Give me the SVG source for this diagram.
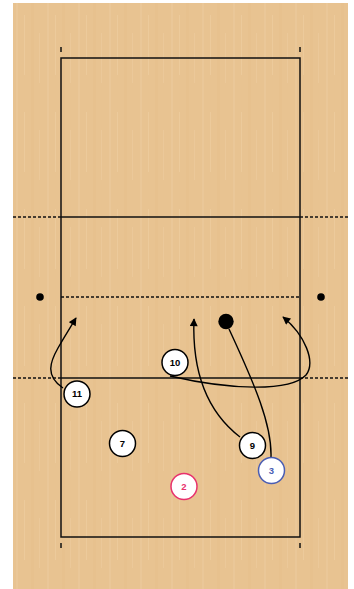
<svg xmlns="http://www.w3.org/2000/svg" width="354" height="589" viewBox="0 0 354 589">
<defs>
<pattern id="grain" x="13" y="3" width="31" height="97" patternUnits="userSpaceOnUse">
<rect width="31" height="97" fill="#e8c391"/>
<rect x="3" y="0" width="2" height="97" fill="#ecc99b" opacity="0.7"/>
<rect x="11" y="12" width="1" height="60" fill="#eecea2" opacity="0.6"/>
<rect x="18" y="0" width="3" height="97" fill="#e5bf8b" opacity="0.5"/>
<rect x="26" y="30" width="1" height="50" fill="#eecea2" opacity="0.5"/>
</pattern>
<marker id="arr" viewBox="0 0 10 10" refX="9" refY="5" markerWidth="9" markerHeight="8" markerUnits="userSpaceOnUse" orient="auto">
<path d="M0,0 L10,5 L0,10 Z" fill="#000"/>
</marker>
</defs>
<style>
.line{stroke:#111;stroke-width:1.5;fill:none}
.dash{stroke:#111;stroke-width:1.3;fill:none;stroke-dasharray:3 2}
.mv{stroke:#000;stroke-width:1.4;fill:none}
.pl circle{fill:#fff;stroke:#000;stroke-width:1.5}
.pl text{font-family:"Liberation Sans",Arial,sans-serif;font-weight:bold;font-size:9.5px;text-anchor:middle;fill:#000}
</style>
<rect x="0" y="0" width="354" height="589" fill="#fff"/>
<rect x="13" y="3" width="335" height="586" fill="url(#grain)"/>
<g id="court">
<rect x="61" y="58" width="239" height="479" class="line"/>
<line x1="61" y1="47" x2="61" y2="52" class="line"/>
<line x1="300" y1="47" x2="300" y2="52" class="line"/>
<line x1="61" y1="543" x2="61" y2="548" class="line"/>
<line x1="300" y1="543" x2="300" y2="548" class="line"/>
<line x1="61" y1="217" x2="300" y2="217" class="line"/>
<line x1="13" y1="217" x2="61" y2="217" class="dash"/>
<line x1="300" y1="217" x2="348" y2="217" class="dash"/>
<line x1="61" y1="297" x2="300" y2="297" class="dash"/>
<line x1="61" y1="378" x2="300" y2="378" class="line"/>
<line x1="13" y1="378" x2="61" y2="378" class="dash"/>
<line x1="300" y1="378" x2="348" y2="378" class="dash"/>
<circle cx="40" cy="297" r="3.8" fill="#000"/>
<circle cx="321" cy="297" r="3.8" fill="#000"/>
</g>
<g id="ball"><circle cx="226" cy="321.5" r="7.7" fill="#000"/></g>
<g id="connectors">
<path class="mv" d="M63,388 C45,376 50,362 58,348 S70,328 76,318" marker-end="url(#arr)"/>
<path class="mv" d="M170,376 C230,390 290,392 306,375 C316,362 305,335 283,317" marker-end="url(#arr)"/>
<path class="mv" d="M240,437 C205,410 192,370 194,319" marker-end="url(#arr)"/>
<path class="mv" d="M271,457 C272,425 255,385 229,329"/>
</g>
<g id="p10" class="pl"><circle cx="175" cy="362.5" r="13"/><text x="175" y="365.9">10</text></g>
<g id="p11" class="pl"><circle cx="77" cy="394" r="13"/><text x="77" y="397.4">11</text></g>
<g id="p7" class="pl"><circle cx="122.5" cy="443.5" r="13"/><text x="122.5" y="446.9">7</text></g>
<g id="p9" class="pl"><circle cx="252.5" cy="445.5" r="13"/><text x="252.5" y="448.9">9</text></g>
<g id="p3" class="pl"><circle cx="271.5" cy="470.5" r="13" style="stroke:#4a5db3"/><text x="271.5" y="473.9" style="fill:#4a5db3">3</text></g>
<g id="p2" class="pl"><circle cx="184" cy="486.5" r="13" style="stroke:#e8326d"/><text x="184" y="489.9" style="fill:#e8326d">2</text></g>
</svg>
